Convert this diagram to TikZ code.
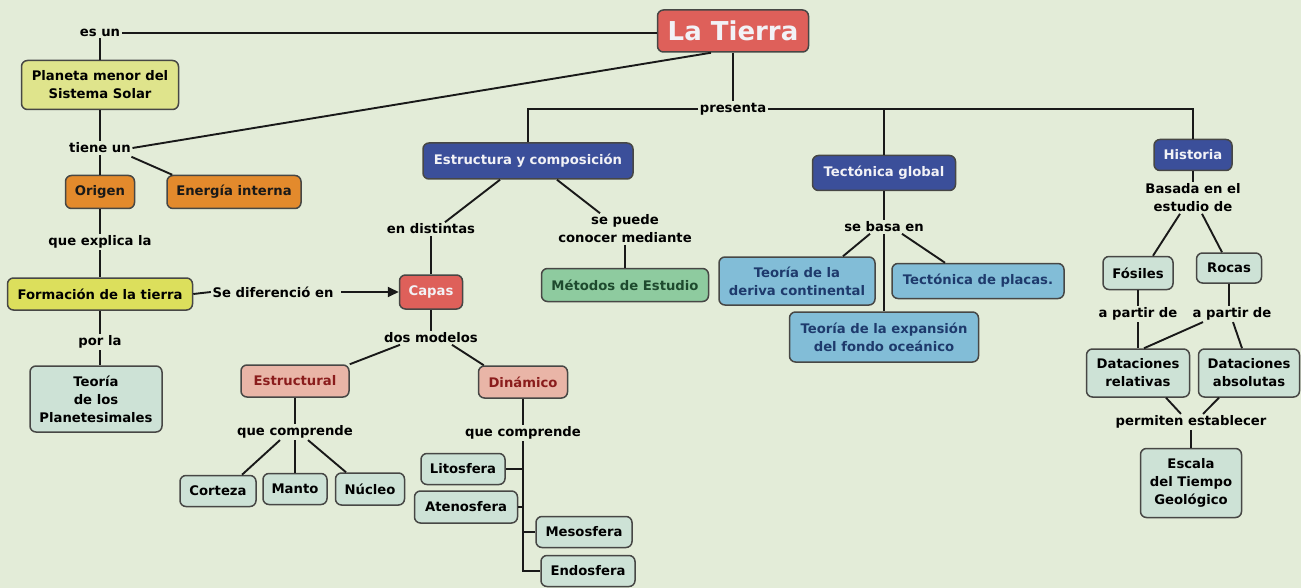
\documentclass[tikz,border=0pt]{standalone}
\usepackage{fontspec}
\setmainfont{DejaVu Sans}
\usetikzlibrary{calc,arrows.meta}
\definecolor{bg}{HTML}{E3ECD8}
\definecolor{bord}{HTML}{474745}
\definecolor{redf}{HTML}{DE605A}
\definecolor{yelA}{HTML}{DFE48C}
\definecolor{yelB}{HTML}{DCDF5C}
\definecolor{orng}{HTML}{E38A2C}
\definecolor{teal}{HTML}{CDE2D6}
\definecolor{bluef}{HTML}{3B4F9A}
\definecolor{greenf}{HTML}{8ECB9F}
\definecolor{greent}{HTML}{1E4A2E}
\definecolor{pinkf}{HTML}{E9B5A7}
\definecolor{pinkt}{HTML}{8A1C1C}
\definecolor{skyf}{HTML}{82BDD7}
\definecolor{skyt}{HTML}{1E3A6C}
\definecolor{whitet}{HTML}{F2F2F6}
\tikzset{
  x=1pt, y=-1pt,
  every node/.style={font=\bfseries\fontsize{13.2}{18}\selectfont},
  bx/.style 2 args={minimum width=#1pt, minimum height=#2pt},
  box/.style={draw=bord, line width=1.5pt, rounded corners=6pt, align=center, inner sep=0pt},
  lbl/.style={align=center, inner sep=1.5pt, text=black},
  conn/.style={line width=1.9pt, draw=black!90},
  yelbox/.style={box, fill=yelA},
  yel2box/.style={box, fill=yelB},
  orbox/.style={box, fill=orng, text=black!90},
  tealbox/.style={box, fill=teal},
  bluebox/.style={box, fill=bluef, text=whitet},
  redbox/.style={box, fill=redf, text=whitet},
  greenbox/.style={box, fill=greenf, text=greent},
  pinkbox/.style={box, fill=pinkf, text=pinkt},
  skybox/.style={box, fill=skyf, text=skyt},
}
\begin{document}
\begin{tikzpicture}
\fill[bg] (0,0) rectangle (1301,588);
\useasboundingbox (0,0) rectangle (1301,588);

% nodes
\node[redbox, bx={151}{42}, font=\bfseries\fontsize{26}{30}\selectfont] (tierra) at (733,31) {La Tierra};
\node[lbl] (esun) at (100,33) {es un};
\node[yelbox, bx={157}{49}] (planeta) at (100,85) {Planeta menor del\\Sistema Solar};
\node[lbl] (tiene) at (100,148) {tiene un};
\node[orbox, bx={69}{33}] (origen) at (100,192) {Origen};
\node[orbox, bx={134}{33}] (energia) at (234,192) {Energía interna};
\node[lbl] (explica) at (100,242) {que explica la};
\node[yel2box, bx={185}{32}] (formacion) at (100,294) {Formación de la tierra};
\node[lbl] (sedif) at (273,292) {Se diferenció en};
\node[lbl] (porla) at (100,342) {por la};
\node[tealbox, bx={132}{66}] (planet) at (96,399) {Teoría\\de los\\Planetesimales};

\node[lbl] (presenta) at (733,109) {presenta};
\node[bluebox, bx={210}{36}] (estructura) at (528,161) {Estructura y composición};
\node[bluebox, bx={143}{35}] (tectonica) at (884,173) {Tectónica global};
\node[bluebox, bx={78}{31}] (historia) at (1193,155) {Historia};

\node[lbl] (distintas) at (431,229) {en distintas};
\node[lbl] (sepuede) at (625,229) {se puede\\conocer mediante};
\node[redbox, bx={63}{34}] (capas) at (431,292) {Capas};
\node[greenbox, bx={167}{33}] (metodos) at (625,285) {Métodos de Estudio};
\node[lbl] (dosmod) at (431,338) {dos modelos};
\node[pinkbox, bx={108}{32}] (estructural) at (295,381) {Estructural};
\node[pinkbox, bx={89}{32}] (dinamico) at (523,382) {Dinámico};
\node[lbl] (qcA) at (295,432) {que comprende};
\node[tealbox, bx={76}{31}] (corteza) at (218,491) {Corteza};
\node[tealbox, bx={64}{31}] (manto) at (295,489) {Manto};
\node[tealbox, bx={69}{32}] (nucleo) at (370,489) {Núcleo};
\node[lbl] (qcB) at (523,433) {que comprende};
\node[tealbox, bx={84}{31}] (lito) at (463,469) {Litosfera};
\node[tealbox, bx={103}{32}] (ateno) at (466,507) {Atenosfera};
\node[tealbox, bx={96}{31}] (meso) at (584,532) {Mesosfera};
\node[tealbox, bx={94}{31}] (endo) at (588,571) {Endosfera};

\node[lbl] (sebasa) at (884,227) {se basa en};
\node[skybox, bx={156}{48}] (deriva) at (797,281) {Teoría de la\\deriva continental};
\node[skybox, bx={172}{35}] (placas) at (978,281) {Tectónica de placas.};
\node[skybox, bx={189}{50}] (expansion) at (884,337) {Teoría de la expansión\\del fondo oceánico};

\node[lbl] (basada) at (1193,198) {Basada en el\\estudio de};
\node[tealbox, bx={70}{33}] (fosiles) at (1138,273) {Fósiles};
\node[tealbox, bx={65}{30}] (rocas) at (1229,268) {Rocas};
\node[lbl] (apA) at (1138,314) {a partir de};
\node[lbl] (apB) at (1232,314) {a partir de};
\node[tealbox, bx={103}{48}] (drel) at (1138,373) {Dataciones\\relativas};
\node[tealbox, bx={101}{48}] (dabs) at (1249,373) {Dataciones\\absolutas};
\node[lbl] (permiten) at (1191,422) {permiten establecer};
\node[tealbox, bx={101}{69}] (escala) at (1191,483) {Escala\\del Tiempo\\Geológico};

% connectors
\draw[conn] (esun.east) -- (esun.east -| tierra.west);
\draw[conn] (esun.south) -- (planeta.north);
\draw[conn] (planeta.south) -- (tiene.north);
\draw[conn] (tiene.east) -- ($(tierra.south)+(-22,0)$);
\draw[conn] (tiene.south) -- (origen.north);
\draw[conn] ($(tiene.south east)+(-1,2)$) -- ($(energia.north west)+(6,0)$);
\draw[conn] (origen.south) -- (explica.north);
\draw[conn] (explica.south) -- (formacion.north);
\draw[conn] (formacion.east) -- (sedif.west);
\draw[conn, -{Triangle[length=11pt,width=10pt]}] ($(sedif.east)+(6,0)$) -- (capas.west);
\draw[conn] (formacion.south) -- (porla.north);
\draw[conn] (porla.south) -- (porla.south |- planet.north);

\draw[conn] (tierra.south) -- (presenta.north);
\draw[conn] (presenta.west) -| (estructura.north);
\draw[conn] (presenta.east) -| (historia.north);
\draw[conn] (presenta.east -| tectonica.north) -- (tectonica.north);

\draw[conn] ($(estructura.south)+(-28,0)$) -- ($(distintas.north)+(14,0)$);
\draw[conn] ($(estructura.south)+(29,0)$) -- ($(sepuede.north)+(-25,0)$);
\draw[conn] (distintas.south) -- (capas.north);
\draw[conn] (sepuede.south) -- (metodos.north);
\draw[conn] (capas.south) -- (dosmod.north);
\draw[conn] ($(dosmod.south)+(-31,0)$) -- ($(estructural.north east)+(0,0)$);
\draw[conn] ($(dosmod.south)+(21,0)$) -- ($(dinamico.north west)+(6,0)$);
\draw[conn] (estructural.south) -- (qcA.north);
\draw[conn] ($(qcA.south)+(-15,0)$) -- ($(corteza.north)+(24,0)$);
\draw[conn] (qcA.south) -- (manto.north);
\draw[conn] ($(qcA.south)+(13,0)$) -- ($(nucleo.north)+(-24,0)$);
\draw[conn] (dinamico.south) -- (qcB.north);
\draw[conn] (qcB.south) |- (endo.west);
\draw[conn] (lito.east) -- (lito.east -| qcB.south);
\draw[conn] (ateno.east) -- (ateno.east -| qcB.south);
\draw[conn] (meso.west) -- (meso.west -| qcB.south);

\draw[conn] (tectonica.south) -- (sebasa.north);
\draw[conn] (sebasa.south) -- (expansion.north);
\draw[conn] ($(sebasa.south)+(-14,0)$) -- ($(deriva.north)+(46,0)$);
\draw[conn] ($(sebasa.south)+(18,0)$) -- ($(placas.north)+(-33,0)$);

\draw[conn] (historia.south) -- (basada.north);
\draw[conn] ($(basada.south)+(-13,0)$) -- ($(fosiles.north)+(15,0)$);
\draw[conn] ($(basada.south)+(9,0)$) -- ($(rocas.north)+(-7,0)$);
\draw[conn] (fosiles.south) -- (apA.north);
\draw[conn] (apA.south) -- (drel.north);
\draw[conn] (rocas.south) -- (rocas.south |- apB.north);
\draw[conn] ($(apB.south)+(-29,0)$) -- ($(drel.north)+(6,0)$);
\draw[conn] ($(apB.south)+(1,0)$) -- ($(dabs.north)+(-7,0)$);
\draw[conn] ($(drel.south)+(28,0)$) -- ($(permiten.north)+(-10,0)$);
\draw[conn] ($(dabs.south)+(-30,0)$) -- ($(permiten.north)+(12,0)$);
\draw[conn] (permiten.south) -- (escala.north);
\end{tikzpicture}
\end{document}
